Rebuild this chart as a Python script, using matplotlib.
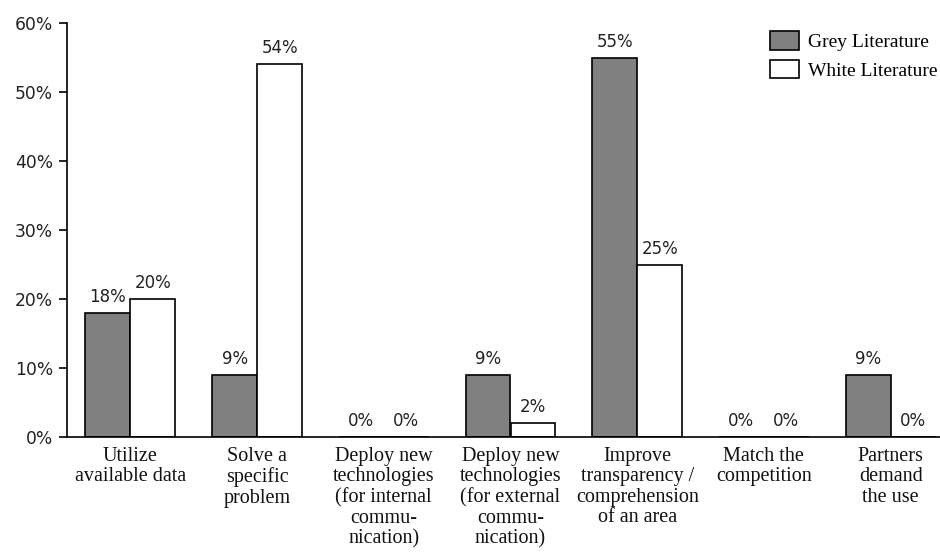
import matplotlib
matplotlib.use("Agg")
import matplotlib.pyplot as plt
import numpy as np

categories = [
    "Utilize\navailable data",
    "Solve a\nspecific\nproblem",
    "Deploy new\ntechnologies\n(for internal\ncommu-\nnication)",
    "Deploy new\ntechnologies\n(for external\ncommu-\nnication)",
    "Improve\ntransparency /\ncomprehension\nof an area",
    "Match the\ncompetition",
    "Partners\ndemand\nthe use",
]
grey_lit = [18, 9, 0, 9, 55, 0, 9]
white_lit = [20, 54, 0, 2, 25, 0, 0]
y_ticks = [0, 10, 20, 30, 40, 50, 60]
series_names = ["Grey Literature", "White Literature"]

W, H = 940, 555
fig = plt.figure(figsize=(W / 100, H / 100), dpi=100)
ax = fig.add_axes([67 / W, 118 / H, 887 / W, 414 / H])

x = np.arange(len(categories))
bw = 0.355
serif = ["Liberation Serif", "DejaVu Serif"]
sans = ["DejaVu Sans"]

b1 = ax.bar(x - bw / 2, grey_lit, bw, color="#808080", edgecolor="black", linewidth=1.2, label=series_names[0])
b2 = ax.bar(x + bw / 2, white_lit, bw, color="white", edgecolor="black", linewidth=1.2, label=series_names[1])

for bars, vals in ((b1, grey_lit), (b2, white_lit)):
    for r, v in zip(bars, vals):
        ax.annotate(f"{v}%", (r.get_x() + r.get_width() / 2, v), xytext=(0, 5),
                    textcoords="offset points", ha="center", va="bottom",
                    fontsize=12, family=sans, color="#222222")

ax.set_xlim(-0.5, len(categories) - 0.5)
ax.set_ylim(0, 60)
ax.set_yticks(y_ticks)
ax.set_yticklabels([f"{t}%" for t in y_ticks], fontsize=12.3, family=sans, color="#222222")
ax.set_xticks(x)
ax.set_xticklabels(categories, fontsize=14.5, family=serif, linespacing=1.11, color="#111111")
ax.tick_params(axis="x", length=0, pad=7)
ax.tick_params(axis="y", length=6, width=1.2, direction="out", pad=4)

for s in ("top", "right"):
    ax.spines[s].set_visible(False)
for s in ("left", "bottom"):
    ax.spines[s].set_linewidth(1.2)

leg = fig.legend(loc="upper left", bbox_to_anchor=(770 / W, 1 - 31 / H), frameon=False,
                 prop={"family": serif, "size": 14}, handlelength=1.5, handleheight=1.1,
                 handletextpad=0.45, labelspacing=0.45, borderpad=0, borderaxespad=0)

fig.savefig("out.png", dpi=100)
